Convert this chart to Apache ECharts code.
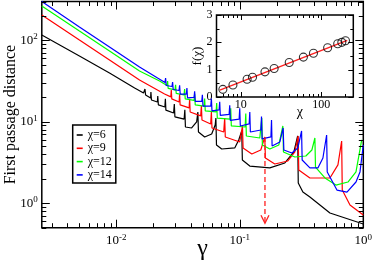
<!DOCTYPE html>
<html><head><meta charset="utf-8">
<script src="https://cdn.jsdelivr.net/npm/echarts@6/dist/echarts.min.js"></script>
<style>html,body{margin:0;padding:0;background:#fff}#c{width:374px;height:268px}</style>
</head><body><div id="c"></div>
<script>
// ---- main chart data: [gamma, first passage distance]
const chi6 = [[0.0025,116],[0.00504,64.3],[0.00883,39.8],[0.0141,26.0],
 [0.01665,22.6],[0.0171,25.3],[0.0173,21.3],
 [0.0190,19.6],[0.0191,23.2],[0.0193,18.5],
 [0.02154,17.5],[0.0217,20.7],[0.02195,16.1],
 [0.02478,15.2],[0.02501,19.1],[0.02525,13.9],
 [0.02915,12.8],[0.02954,16.5],[0.02987,11.5],
 [0.03548,10.8],[0.03594,14.0],[0.03634,8.63],
 [0.0408,8.39],[0.04479,9.94],[0.04581,13.2],[0.04633,7.49],[0.052,6.51],
 [0.05928,7.08],[0.06327,9.13],[0.06412,11.1],[0.06483,5.19],[0.07145,4.63],[0.0911,4.77],
 [0.0981,5.98],[0.1038,7.71],[0.105,3.39],[0.1206,2.86],[0.1751,2.71],[0.2317,3.12],[0.2742,4.26],
 [0.2943,6.69],[0.2976,1.77],[0.3243,1.37],[0.3696,1.19],[0.537,0.758],[1,0.555]];
const chi9 = [[0.0025,205],[0.00504,101],[0.00883,57.4],[0.01545,32.6],[0.02464,21.9],
 [0.02767,20.2],[0.02793,24.6],[0.02818,19.1],
 [0.03231,17.5],[0.03261,21.9],[0.03292,16.1],
 [0.03895,14.8],[0.03931,19.1],[0.03968,13.2],
 [0.04829,11.8],[0.04893,15.6],[0.04947,10.5],
 [0.05817,9.4],[0.05895,13.2],[0.05961,8.39],
 [0.07418,7.49],[0.07555,11.1],[0.0764,6.51],
 [0.1,5.65],[0.1052,8.88],[0.1064,4.77],[0.1252,4.02],[0.148,4.5],
 [0.1595,6.51],[0.1613,3.59],[0.1922,3.03],[0.245,3.3],[0.2793,4.26],
 [0.2972,6.69],[0.3004,2.56],[0.3696,2.04],[0.537,2.04],[0.6233,2.95],
 [0.668,5.81],[0.6757,1.45],[0.78,0.95],[1,0.716]];
const chi12 = [[0.0025,265],[0.00504,130.5],[0.00883,74.1],[0.01545,42.1],[0.02245,31.7],
 [0.02577,27.9],[0.02606,31.7],[0.02635,25.7],
 [0.02993,24.6],[0.03026,28.5],[0.0306,22.3],
 [0.0354,21.3],[0.0358,25.3],[0.0362,19.1],
 [0.04268,18.3],[0.04315,22.1],[0.04364,16.1],
 [0.05142,15.6],[0.052,19.3],[0.0526,13.6],
 [0.06435,13.2],[0.06508,17.0],[0.06581,11.1],
 [0.08358,10.8],[0.08453,14.6],[0.08548,8.88],
 [0.1106,8.63],[0.1119,12.6],[0.1131,6.69],
 [0.1453,6.32],[0.1508,11.1],[0.1525,5.19],[0.1751,4.63],
 [0.2072,5.19],[0.2233,8.88],[0.2258,4.26],[0.2793,3.69],[0.3429,3.8],
 [0.3836,4.5],[0.4057,6.32],[0.4103,2.78],[0.4891,2.04],[0.6006,1.67],[0.7511,1.82],[0.8725,2.42],[0.9705,5.98]];
const chi14 = [[0.0025,299],[0.00504,146],[0.00883,83],[0.01545,47.1],[0.02163,34.5],
 [0.02483,30.4],[0.02511,34.5],[0.02539,27.9],
 [0.02829,27.1],[0.02861,30.8],[0.02893,24.9],
 [0.03225,24.2],[0.03261,28.1],[0.03298,21.9],
 [0.03695,21.9],[0.03737,26.0],[0.03779,19.6],
 [0.04268,19.9],[0.04315,23.6],[0.04364,17.8],
 [0.04927,17.8],[0.04983,21.5],[0.0504,15.6],
 [0.05828,15.6],[0.05895,19.3],[0.05961,13.6],
 [0.06807,14.0],[0.06884,17.6],[0.06962,11.95],
 [0.08204,12.3],[0.08297,15.9],[0.0839,10.4],
 [0.09888,10.8],[0.1,14.6],[0.1011,8.88],
 [0.1192,9.4],[0.1206,13.2],[0.1219,7.49],
 [0.1483,7.93],[0.15,11.6],[0.1517,6.15],
 [0.1788,6.51],[0.1808,10.5],[0.1828,5.04],
 [0.2111,5.65],[0.2245,8.39],[0.2275,4.5],[0.2641,4.14],[0.2954,4.77],[0.3165,7.71],[0.32,3.39],
 [0.3696,2.71],[0.4291,2.71],[0.4712,3.59],[0.5049,6.88],[0.5106,2.42],[0.6119,1.45],[0.7377,1.37],
 [0.8725,1.82],[0.9402,2.42],[1,5.19]];
const seriesNames = ['χ=6','χ=9','χ=12','χ=14'];
const seriesColors = ['#000000','#ff0000','#00ff00','#0000ff'];
// dashed arrow annotation: [gamma, top value, bottom value]
const arrow = [0.16, 6.5, 0.567];
// ---- inset data
const chiValues = [6,8,12,14,20,26,40,60,80,120,160,180,200];
const fValues = [0.28,0.44,0.65,0.72,0.92,1.04,1.26,1.46,1.6,1.8,1.95,2.0,2.06];
const fitChi = [5.5,210];
const fitF = [0.25,2.07];
const fitName = '-0.6+0.5ln(χ)';
// ---- tick positions
const xMajorTicks = [0.01,0.1,1];
const xMinorTicks = [0.003,0.004,0.005,0.006,0.007,0.008,0.009,0.02,0.03,0.04,0.05,0.06,0.07,0.08,0.09,0.2,0.3,0.4,0.5,0.6,0.7,0.8,0.9];
const yMajorTicks = [1,10,100];
const yMinorTicks = [0.5,0.6,0.7,0.8,0.9,2,3,4,5,6,7,8,9,20,30,40,50,60,70,80,90,200,300];
const insetXMajor = [10,100];
const insetXMinor = [6,7,8,9,20,30,40,50,60,70,80,90,200];
const insetYMajor = [0,1,2,3];
const insetYMinor = [0.5,1.5,2.5];

const FONT = 'Liberation Serif';
function tickData(xs, xsMinor, ys, ysMinor, xRef, yRef){
  const d = [];
  xs.forEach(v => d.push([v, yRef, 0]));
  xsMinor.forEach(v => d.push([v, yRef, 1]));
  ys.forEach(v => d.push([xRef, v, 2]));
  ysMinor.forEach(v => d.push([xRef, v, 3]));
  return d;
}
function makeTickRender(majorLen, minorLen){
  return function(params, api){
    const cs = params.coordSys;
    const kind = api.value(2);
    const len = (kind === 0 || kind === 2) ? majorLen : minorLen;
    const st = {stroke:'#000', lineWidth:1};
    if (kind < 2) {
      const px = Math.round(api.coord([api.value(0), api.value(1)])[0]) + 0.5;
      const b = cs.y + cs.height, t = cs.y;
      return {type:'group', children:[
        {type:'line', shape:{x1:px,y1:b,x2:px,y2:b-len}, style:st},
        {type:'line', shape:{x1:px,y1:t,x2:px,y2:t+len}, style:st}]};
    }
    const py = Math.round(api.coord([api.value(0), api.value(1)])[1]) + 0.5;
    const l = cs.x, r = cs.x + cs.width;
    return {type:'group', children:[
      {type:'line', shape:{x1:l,y1:py,x2:l+len,y2:py}, style:st},
      {type:'line', shape:{x1:r,y1:py,x2:r-len,y2:py}, style:st}]};
  };
}
const expFmt = v => '{b|10}{s|' + Math.round(Math.log10(v)) + '}';
const richLab = {
  b:{fontSize:13, fontFamily:FONT, color:'#000', lineHeight:16},
  s:{fontSize:9, fontFamily:FONT, color:'#000', lineHeight:16, verticalAlign:'top'}
};

const chart = echarts.init(document.getElementById('c'), null, {renderer:'canvas'});
const mainSeries = [chi6, chi9, chi12, chi14].map((d, i) => ({
  name: seriesNames[i], type:'line', data:d, xAxisIndex:0, yAxisIndex:0,
  symbol:'none', showSymbol:false, smooth:false,
  lineStyle:{color:seriesColors[i], width:1.2}, itemStyle:{color:seriesColors[i]}, z:3
}));
chart.setOption({
  animation:false,
  backgroundColor:'#fff',
  grid:[
    {left:41.8, top:1.5, width:321.5, height:226.2, show:true, borderColor:'#000', borderWidth:1.5,
     backgroundColor:'rgba(0,0,0,0)', containLabel:false, outerBoundsMode:'none'},
    {left:216.5, top:15, width:136.8, height:82, show:true, borderColor:'#000', borderWidth:1.5,
     backgroundColor:'#fff', z:5, containLabel:false, outerBoundsMode:'none'}
  ],
  legend:[
    {data:seriesNames, orient:'vertical', left:72.7, top:125, icon:'rect', itemWidth:6, itemHeight:1.6, itemGap:1.3,
     padding:[4,4,2,4], borderColor:'#000', borderWidth:1.5, backgroundColor:'#fff', borderRadius:0,
     textStyle:{fontFamily:FONT, fontSize:12, lineHeight:12, color:'#000'}, selectedMode:false},
    {data:[fitName], orient:'vertical', left:231.7, top:27.3, icon:'rect', itemWidth:13, itemHeight:1.8,
     padding:[3,4,3,4], borderColor:'#000', borderWidth:1.2, backgroundColor:'#fff',
     textStyle:{fontFamily:FONT, fontSize:10, lineHeight:10, color:'#000'}, selectedMode:false}
  ],
  xAxis:[
    {type:'log', logBase:10, gridIndex:0, min:0.0025, max:1, axisLine:{show:false}, axisTick:{show:false},
     splitLine:{show:false}, axisLabel:{formatter:expFmt, rich:richLab, margin:5, showMinLabel:false},
     name:'γ', nameLocation:'middle', nameGap:9, nameMoveOverlap:false,
     nameTextStyle:{fontFamily:FONT, fontSize:24, color:'#000'}},
    {type:'log', logBase:10, gridIndex:1, min:5, max:250, axisLine:{show:false}, axisTick:{show:false},
     splitLine:{show:false}, axisLabel:{fontFamily:FONT, fontSize:12, color:'#000', margin:2, showMinLabel:false, showMaxLabel:false},
     name:'χ', nameLocation:'middle', nameGap:8, nameMoveOverlap:false,
     nameTextStyle:{fontFamily:FONT, fontSize:14, color:'#000', padding:[0,0,0,30]}}
  ],
  yAxis:[
    {type:'log', logBase:10, gridIndex:0, min:0.5, max:300, axisLine:{show:false}, axisTick:{show:false},
     splitLine:{show:false}, axisLabel:{formatter:expFmt, rich:richLab, margin:4, showMinLabel:false, showMaxLabel:false},
     name:'First passage distance', nameLocation:'middle', nameGap:23, nameRotate:90, nameMoveOverlap:false,
     nameTextStyle:{fontFamily:FONT, fontSize:16, color:'#000'}},
    {type:'value', gridIndex:1, min:0, max:3, interval:1, axisLine:{show:false}, axisTick:{show:false},
     splitLine:{show:false}, axisLabel:{fontFamily:FONT, fontSize:12, color:'#000', margin:4},
     name:'f(χ)', nameLocation:'middle', nameGap:12, nameRotate:90, nameMoveOverlap:false,
     nameTextStyle:{fontFamily:FONT, fontSize:13, color:'#000'}}
  ],
  series: mainSeries.concat([
    {type:'custom', name:'ticks', xAxisIndex:0, yAxisIndex:0, clip:false, silent:true, z:4,
     data: tickData(xMajorTicks, xMinorTicks, yMajorTicks, yMinorTicks, 0.01, 1),
     renderItem: makeTickRender(8, 4.5)},
    {type:'custom', name:'arrow', xAxisIndex:0, yAxisIndex:0, clip:false, silent:true, z:4,
     data:[arrow],
     renderItem: function(params, api){
       const p1 = api.coord([api.value(0), api.value(1)]);
       const p2 = api.coord([api.value(0), api.value(2)]);
       const st = {stroke:'#ff2020', lineWidth:1.3, fill:null};
       return {type:'group', children:[
         {type:'line', shape:{x1:p1[0],y1:p1[1],x2:p2[0],y2:p2[1]}, style:Object.assign({lineDash:[5,3]}, st)},
         {type:'polyline', shape:{points:[[p2[0]-4,p2[1]-8],[p2[0],p2[1]],[p2[0]+4,p2[1]-8]]}, style:st}
       ]};
     }},
    {type:'line', name:fitName, xAxisIndex:1, yAxisIndex:1, data:fitChi.map((c,i)=>[c, fitF[i]]),
     symbol:'none', lineStyle:{color:'#ff2020', width:1.5}, itemStyle:{color:'#ff2020'}, z:6},
    {type:'scatter', name:'fchi', xAxisIndex:1, yAxisIndex:1, data:chiValues.map((c,i)=>[c, fValues[i]]),
     symbol:'circle', symbolSize:8, itemStyle:{color:'rgba(0,0,0,0)', borderColor:'#000', borderWidth:1.1}, z:7},
    {type:'custom', name:'insetTicks', xAxisIndex:1, yAxisIndex:1, clip:false, silent:true, z:7,
     data: tickData(insetXMajor, insetXMinor, insetYMajor, insetYMinor, 10, 1),
     renderItem: makeTickRender(5, 3)}
  ])
});
</script></body></html>
